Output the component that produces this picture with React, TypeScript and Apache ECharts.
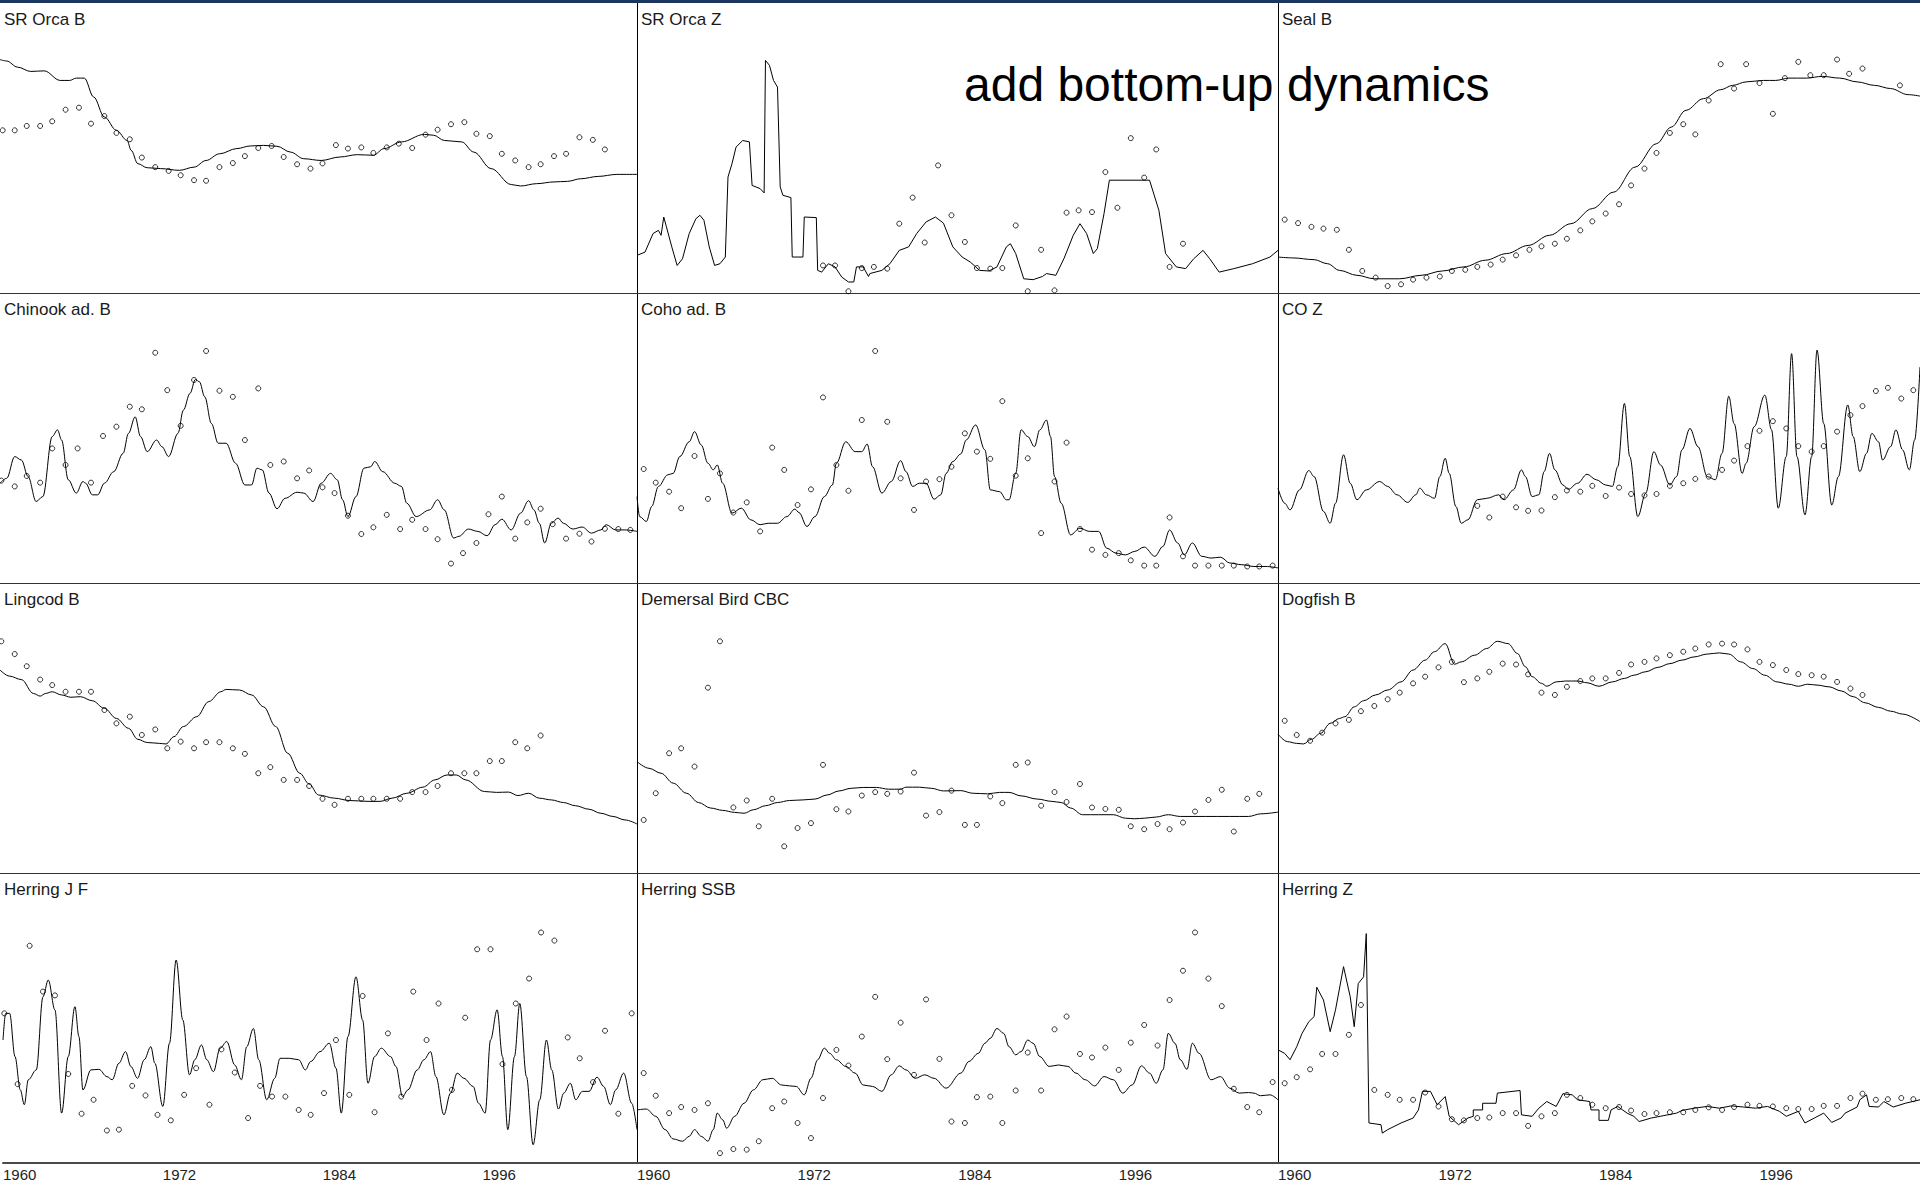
import React, { useEffect, useRef } from "react";
import * as echarts from "echarts";

// ---- Tick labels / titles ----
const tickYears = [1960, 1972, 1984, 1996];
const panelTitles = [
  "SR Orca B", "SR Orca Z", "Seal B",
  "Chinook ad. B", "Coho ad. B", "CO Z",
  "Lingcod B", "Demersal Bird CBC", "Dogfish B",
  "Herring J F", "Herring SSB", "Herring Z",
];
const annotation = "add bottom-up dynamics";

// ---- Model (line) and observed (points) series: [year, relative value 0-100] ----
const srOrcaBModel = [[1960.0,80.5],[1960.5,80.0],[1961.3,77.9],[1962.3,76.4],[1963.3,76.6],[1964.5,73.3],[1965.2,73.3],[1965.7,74.1],[1966.3,74.1],[1967.0,67.6],[1967.8,60.7],[1968.7,56.1],[1969.5,52.6],[1969.8,49.2],[1970.3,44.6],[1971.0,43.2],[1972.0,42.9],[1973.4,42.3],[1974.5,43.4],[1975.4,45.7],[1976.4,48.0],[1977.7,49.8],[1978.7,50.7],[1979.7,50.9],[1980.7,50.6],[1981.7,48.6],[1982.7,46.3],[1984.0,45.7],[1985.4,46.9],[1986.7,47.7],[1987.9,47.5],[1988.7,49.8],[1990.0,52.1],[1991.7,54.7],[1992.4,54.4],[1993.2,52.6],[1994.5,52.1],[1995.4,48.6],[1996.7,42.9],[1998.2,37.4],[1998.9,36.9],[2000.1,37.7],[2001.4,38.3],[2002.4,38.5],[2003.4,39.4],[2004.7,40.2],[2006.1,40.9],[2007.6,40.9]];
const srOrcaBObs = [[1960.2,56.1],[1961.1,56.1],[1962.0,57.6],[1963.0,57.6],[1963.9,59.2],[1964.9,63.2],[1965.9,63.9],[1966.8,58.4],[1967.8,61.0],[1968.7,55.2],[1969.7,53.0],[1970.6,46.7],[1971.6,43.4],[1972.6,42.1],[1973.5,40.6],[1974.5,38.9],[1975.4,38.7],[1976.4,43.4],[1977.4,44.8],[1978.3,47.2],[1979.3,50.0],[1980.3,50.7],[1981.2,46.9],[1982.2,44.4],[1983.2,42.9],[1984.1,44.7],[1985.1,51.0],[1986.0,49.8],[1987.0,50.2],[1987.9,48.3],[1988.9,50.2],[1989.8,51.5],[1990.8,50.0],[1991.8,54.6],[1992.7,56.3],[1993.7,58.2],[1994.7,58.9],[1995.6,54.9],[1996.6,54.1],[1997.5,48.0],[1998.5,45.7],[1999.5,43.4],[2000.4,44.4],[2001.4,47.2],[2002.3,48.0],[2003.3,53.7],[2004.3,52.8],[2005.2,49.5]];

const srOrcaZModel = [[1960.0,13.0],[1960.6,14.1],[1961.2,20.5],[1961.6,21.6],[1961.8,19.9],[1962.0,26.2],[1962.2,22.8],[1962.6,15.9],[1963.0,9.5],[1963.4,11.8],[1963.9,20.5],[1964.4,25.6],[1964.7,26.8],[1965.0,25.1],[1965.4,15.9],[1965.8,9.5],[1966.2,10.1],[1966.6,12.4],[1966.8,40.0],[1967.1,44.6],[1967.4,50.3],[1967.9,52.6],[1968.4,52.1],[1968.6,37.1],[1969.2,36.0],[1969.5,34.5],[1969.6,80.2],[1969.9,78.5],[1970.2,73.3],[1970.5,71.0],[1970.7,36.6],[1970.9,33.7],[1971.5,32.9],[1971.6,12.4],[1972.4,12.4],[1972.5,26.2],[1973.4,26.0],[1973.5,7.8],[1973.8,7.2],[1974.3,10.1],[1974.8,9.0],[1975.3,5.5],[1975.8,3.8],[1976.2,3.8],[1976.4,9.0],[1976.9,9.0],[1977.3,5.7],[1977.4,6.7],[1978.3,7.8],[1978.9,10.1],[1979.6,14.7],[1980.3,15.9],[1980.9,20.5],[1981.6,24.5],[1982.3,26.2],[1982.9,24.1],[1983.6,15.9],[1984.3,12.4],[1984.9,10.7],[1985.6,7.8],[1986.3,7.6],[1986.9,9.0],[1987.6,15.9],[1987.9,17.0],[1988.3,13.6],[1988.9,4.9],[1989.6,4.6],[1990.3,5.7],[1990.6,6.7],[1991.3,6.1],[1991.9,11.8],[1992.6,19.9],[1993.1,23.9],[1993.6,20.5],[1994.1,13.6],[1994.4,15.3],[1994.9,27.4],[1995.3,38.9],[1998.3,38.9],[1999.0,28.5],[1999.5,13.6],[2000.3,9.0],[2001.0,8.4],[2001.6,11.8],[2002.3,14.7],[2002.8,11.8],[2003.5,7.2],[2004.6,8.4],[2006.0,10.1],[2007.3,12.4],[2007.9,14.7]];
const srOrcaZObs = [[1973.9,9.5],[1974.8,9.5],[1975.8,0.6],[1976.8,8.6],[1977.7,9.0],[1978.7,8.4],[1979.6,23.9],[1980.6,32.9],[1981.5,17.4],[1982.5,44.0],[1983.5,26.8],[1984.5,17.6],[1985.4,8.6],[1986.4,8.4],[1987.3,8.6],[1988.3,23.3],[1989.2,0.6],[1990.2,14.9],[1991.2,0.9],[1992.1,27.7],[1993.0,28.5],[1994.0,27.9],[1995.0,41.7],[1995.9,29.4],[1996.9,53.4],[1997.9,39.8],[1998.8,49.5],[1999.8,9.0],[2000.8,17.0]];

const sealBModel = [[1960.0,12.4],[1961.1,12.1],[1962.7,11.5],[1963.7,10.1],[1964.6,7.8],[1965.9,6.1],[1967.2,4.9],[1969.1,4.9],[1970.7,6.1],[1972.3,7.6],[1973.9,9.0],[1975.5,11.3],[1977.1,13.6],[1978.7,16.4],[1980.3,19.9],[1981.9,23.9],[1983.5,29.1],[1985.1,34.8],[1986.7,43.4],[1988.3,51.5],[1989.4,57.2],[1990.5,63.0],[1991.8,67.0],[1993.1,70.1],[1994.0,71.6],[1995.0,72.8],[1996.3,73.3],[1997.2,73.3],[1998.2,74.1],[1999.5,74.1],[2000.7,74.7],[2002.0,74.1],[2003.3,72.8],[2004.6,71.6],[2005.8,70.5],[2007.1,68.4],[2008.0,67.9]];
const sealBObs = [[1960.5,25.3],[1961.5,24.1],[1962.5,22.8],[1963.4,22.2],[1964.4,21.8],[1965.3,14.9],[1966.3,7.6],[1967.3,5.3],[1968.2,2.4],[1969.2,3.0],[1970.1,4.6],[1971.1,5.3],[1972.1,5.7],[1973.0,7.6],[1974.0,8.0],[1974.9,9.0],[1975.9,9.8],[1976.8,11.5],[1977.8,13.0],[1978.8,14.9],[1979.7,16.1],[1980.7,17.0],[1981.6,18.7],[1982.6,21.6],[1983.5,24.7],[1984.5,27.4],[1985.5,30.6],[1986.4,37.1],[1987.4,42.9],[1988.3,48.3],[1989.3,55.2],[1990.3,58.2],[1991.2,54.7],[1992.2,66.4],[1993.1,78.9],[1994.1,70.5],[1995.0,78.9],[1996.0,72.4],[1997.0,61.8],[1997.9,74.1],[1998.9,79.7],[1999.8,75.1],[2000.8,75.1],[2001.8,80.5],[2002.7,75.6],[2003.7,77.4],[2006.5,71.6]];

const chinookModel = [[1960.0,34.4],[1960.5,36.1],[1961.1,43.6],[1961.6,42.4],[1962.1,36.7],[1962.7,28.1],[1963.2,29.8],[1963.9,50.5],[1964.3,52.8],[1964.6,49.3],[1965.1,35.6],[1965.7,31.0],[1966.2,35.0],[1966.4,34.4],[1966.9,30.4],[1967.3,30.4],[1967.8,34.4],[1968.5,38.4],[1969.2,44.7],[1969.6,51.6],[1970.1,57.3],[1970.5,50.5],[1971.0,45.3],[1971.7,49.3],[1972.1,47.0],[1972.6,43.6],[1973.3,51.6],[1973.7,59.6],[1974.2,65.4],[1974.6,70.2],[1974.9,69.4],[1975.3,64.2],[1975.8,55.0],[1976.3,48.2],[1976.9,48.2],[1977.6,41.3],[1978.3,33.8],[1978.8,33.8],[1979.2,39.6],[1979.6,39.0],[1980.1,31.0],[1980.7,25.6],[1981.3,29.2],[1982.2,31.3],[1982.7,31.0],[1983.4,28.1],[1984.0,34.4],[1984.7,37.8],[1985.2,35.6],[1985.6,28.7],[1986.0,22.9],[1986.6,29.8],[1987.2,39.6],[1987.7,40.1],[1988.0,41.9],[1988.6,38.4],[1989.5,34.4],[1990.0,33.3],[1990.4,27.5],[1991.1,22.9],[1992.1,25.2],[1992.7,28.7],[1993.2,25.2],[1993.9,15.5],[1994.3,16.1],[1995.0,18.6],[1995.7,17.8],[1996.4,16.3],[1997.0,20.1],[1997.5,22.0],[1998.2,18.3],[1998.9,24.1],[1999.5,28.4],[1999.9,25.2],[2000.3,20.6],[2000.7,13.8],[2001.2,20.6],[2001.7,22.4],[2002.1,20.6],[2002.8,18.6],[2003.5,19.3],[2004.2,17.2],[2004.9,18.3],[2005.3,20.1],[2006.0,18.3],[2006.7,18.3],[2007.6,17.8]];
const chinookObs = [[1960.1,35.3],[1961.1,33.3],[1962.0,36.9],[1963.0,34.6],[1963.9,46.4],[1964.9,40.7],[1965.8,46.4],[1966.8,34.6],[1967.7,50.7],[1968.7,53.9],[1969.7,60.8],[1970.6,59.9],[1971.6,79.4],[1972.5,66.5],[1973.5,54.2],[1974.5,70.0],[1975.4,80.0],[1976.4,66.3],[1977.4,64.2],[1978.3,49.3],[1979.3,67.1],[1980.2,40.7],[1981.2,41.9],[1982.2,36.1],[1983.1,38.8],[1984.1,33.0],[1985.0,31.0],[1986.0,23.2],[1987.0,16.9],[1987.9,19.2],[1988.9,23.5],[1989.9,18.6],[1990.8,21.8],[1991.8,18.6],[1992.7,15.1],[1993.7,6.7],[1994.6,10.3],[1995.6,13.8],[1996.5,23.7],[1997.5,29.8],[1998.5,15.3],[1999.4,20.9],[2000.4,25.6],[2001.3,20.3],[2002.3,15.3],[2003.3,17.0],[2004.2,14.3],[2005.2,18.7],[2006.2,18.6],[2007.1,18.3]];

const cohoModel = [[1960.0,29.8],[1960.2,22.9],[1960.7,21.2],[1961.1,26.4],[1961.6,33.3],[1962.3,37.3],[1962.7,37.8],[1963.2,43.6],[1963.9,48.7],[1964.3,52.2],[1964.8,47.6],[1965.3,41.3],[1965.7,39.0],[1966.0,40.7],[1966.4,34.4],[1967.1,24.1],[1967.8,25.8],[1968.5,21.8],[1969.2,20.1],[1969.8,20.6],[1970.5,20.6],[1971.2,22.9],[1971.8,25.5],[1972.1,24.3],[1972.7,19.5],[1973.3,22.9],[1974.0,29.8],[1974.6,33.8],[1974.9,41.3],[1975.6,48.7],[1976.3,45.3],[1976.8,45.3],[1977.2,47.9],[1977.6,40.1],[1978.3,31.0],[1979.0,35.0],[1979.7,42.2],[1980.1,38.4],[1980.6,33.3],[1981.1,34.4],[1981.6,34.4],[1982.2,28.9],[1982.7,30.4],[1983.1,37.8],[1983.6,41.9],[1984.2,44.5],[1984.6,49.3],[1985.3,54.5],[1986.0,45.9],[1986.4,32.1],[1987.1,31.5],[1987.6,28.7],[1987.8,28.7],[1988.3,37.8],[1988.7,52.8],[1989.2,50.5],[1989.7,47.0],[1990.1,52.8],[1990.6,56.2],[1990.9,50.5],[1991.2,36.7],[1991.7,27.5],[1992.4,16.6],[1993.1,18.9],[1993.8,17.8],[1994.5,17.8],[1995.1,12.0],[1995.8,10.3],[1996.5,9.7],[1997.2,10.9],[1997.9,12.4],[1998.7,9.2],[1999.3,12.6],[1999.8,18.3],[2000.4,13.8],[2000.9,9.7],[2001.5,13.8],[2002.2,9.2],[2002.9,8.6],[2003.6,8.9],[2004.3,6.9],[2005.2,6.3],[2006.1,5.7],[2007.0,5.7],[2007.9,5.2]];
const cohoObs = [[1960.5,39.3],[1961.4,34.6],[1962.4,31.5],[1963.3,25.8],[1964.3,43.8],[1965.3,29.0],[1966.2,37.8],[1967.2,24.3],[1968.2,27.8],[1969.2,17.8],[1970.1,46.7],[1971.0,39.0],[1972.0,26.9],[1973.0,32.3],[1973.9,64.0],[1974.9,40.7],[1975.8,31.8],[1976.8,56.2],[1977.8,80.0],[1978.7,55.6],[1979.7,36.1],[1980.7,25.2],[1981.6,35.0],[1982.6,35.8],[1983.5,40.1],[1984.5,51.6],[1985.4,45.3],[1986.4,42.8],[1987.3,62.7],[1988.3,37.0],[1989.2,43.0],[1990.2,17.2],[1991.2,35.0],[1992.1,48.4],[1993.1,18.6],[1994.0,11.5],[1995.0,9.7],[1996.0,10.3],[1996.9,7.8],[1997.9,6.0],[1998.8,6.0],[1999.8,22.6],[2000.8,9.2],[2001.7,6.0],[2002.7,6.0],[2003.7,6.0],[2004.6,6.0],[2005.6,5.7],[2006.5,5.7],[2007.5,6.0]];

const coZModel = [[1960.0,32.7],[1960.5,27.5],[1960.9,25.2],[1961.6,32.1],[1962.3,38.8],[1962.7,36.7],[1963.4,24.7],[1963.9,20.6],[1964.3,27.5],[1964.9,44.2],[1965.4,34.4],[1965.9,28.7],[1966.6,32.1],[1967.6,35.0],[1968.2,33.3],[1968.9,30.4],[1969.7,27.8],[1970.3,30.4],[1970.6,32.7],[1971.1,30.4],[1971.7,29.2],[1972.1,36.7],[1972.5,43.0],[1972.8,37.8],[1973.3,26.4],[1973.7,20.6],[1974.2,21.8],[1974.9,28.7],[1975.6,29.2],[1976.5,30.4],[1976.9,28.7],[1977.6,32.1],[1978.2,39.0],[1978.5,36.7],[1979.0,29.8],[1979.5,30.4],[1979.9,38.4],[1980.3,44.7],[1980.7,39.0],[1981.3,33.8],[1981.7,32.3],[1982.4,34.4],[1983.1,37.5],[1983.8,35.6],[1984.5,33.8],[1985.0,33.3],[1985.4,40.1],[1985.9,61.9],[1986.3,43.6],[1986.9,22.9],[1987.5,31.0],[1988.1,45.3],[1988.6,40.7],[1989.3,33.8],[1989.8,36.7],[1990.2,45.9],[1990.8,53.3],[1991.4,47.0],[1992.1,36.7],[1992.7,35.6],[1993.2,44.7],[1993.7,64.4],[1994.1,55.0],[1994.7,37.8],[1995.0,41.3],[1995.6,53.9],[1996.4,64.8],[1996.9,52.8],[1997.4,25.8],[1998.0,43.6],[1998.4,79.1],[1998.8,43.6],[1999.4,23.5],[1999.9,43.6],[2000.3,80.3],[2000.8,55.0],[2001.4,26.9],[2001.9,36.7],[2002.6,61.4],[2003.0,50.5],[2003.5,38.4],[2004.0,44.7],[2004.4,51.6],[2004.9,48.7],[2005.2,42.4],[2005.8,47.0],[2006.2,52.8],[2006.7,45.9],[2007.2,39.0],[2007.6,49.3],[2008.0,74.5]];
const coZObs = [[1974.9,26.6],[1975.8,22.6],[1976.8,29.8],[1977.8,26.1],[1978.7,24.9],[1979.7,25.0],[1980.7,29.6],[1981.6,31.9],[1982.6,31.5],[1983.5,33.5],[1984.5,30.0],[1985.5,32.9],[1986.4,30.7],[1987.4,30.2],[1988.3,30.7],[1989.3,33.5],[1990.3,34.4],[1991.2,35.9],[1992.2,36.7],[1993.2,39.0],[1994.1,42.2],[1995.1,47.2],[1996.0,52.5],[1997.0,55.8],[1998.0,53.3],[1998.9,47.2],[1999.9,45.3],[2000.8,47.2],[2001.8,52.2],[2002.8,57.9],[2003.7,61.0],[2004.7,66.2],[2005.6,67.3],[2006.6,63.6],[2007.5,66.5]];

const lingcodModel = [[1960.0,70.0],[1960.7,67.9],[1961.6,66.7],[1962.5,61.9],[1963.0,61.0],[1963.4,61.9],[1963.9,62.5],[1964.6,61.4],[1965.3,60.6],[1966.0,60.8],[1966.9,59.4],[1967.8,56.8],[1968.7,53.3],[1969.6,49.9],[1970.3,46.1],[1971.0,45.0],[1971.9,44.7],[1972.4,44.5],[1973.0,47.0],[1973.7,50.5],[1974.7,53.9],[1975.6,59.1],[1976.5,62.5],[1976.9,63.3],[1977.9,63.1],[1978.8,61.4],[1979.7,57.3],[1980.6,50.5],[1981.5,41.3],[1982.4,34.4],[1983.1,30.7],[1983.8,26.9],[1985.0,25.8],[1986.1,25.0],[1987.5,24.7],[1988.4,24.7],[1989.3,25.8],[1990.4,27.5],[1991.6,29.6],[1992.5,32.1],[1993.4,33.8],[1994.1,33.8],[1994.8,32.1],[1996.2,28.1],[1997.1,27.8],[1998.0,27.9],[1998.7,26.7],[1999.5,27.5],[2000.3,25.8],[2001.2,25.2],[2002.1,24.3],[2003.0,23.2],[2004.0,22.0],[2004.9,20.6],[2005.8,19.5],[2006.7,18.3],[2007.6,16.9]];
const lingcodObs = [[1960.1,79.9],[1961.1,75.5],[1962.0,71.3],[1963.0,66.7],[1963.9,64.8],[1964.9,62.5],[1965.9,62.5],[1966.8,62.5],[1967.8,56.2],[1968.7,51.6],[1969.7,53.9],[1970.6,47.6],[1971.6,49.5],[1972.5,43.0],[1973.5,45.3],[1974.5,43.0],[1975.4,45.1],[1976.4,45.1],[1977.4,43.0],[1978.3,41.1],[1979.3,34.4],[1980.2,36.5],[1981.2,32.1],[1982.2,32.1],[1983.1,30.0],[1984.1,25.6],[1985.0,23.5],[1986.0,25.6],[1987.0,25.6],[1987.9,25.6],[1988.9,25.6],[1989.9,25.6],[1990.8,27.9],[1991.8,27.9],[1992.7,30.0],[1993.7,34.4],[1994.7,34.4],[1995.6,34.4],[1996.6,38.6],[1997.5,38.6],[1998.5,45.1],[1999.4,43.0],[2000.4,47.4]];

const demersalModel = [[1960.0,38.4],[1960.9,36.1],[1961.8,34.4],[1962.7,31.0],[1963.7,27.5],[1964.6,24.3],[1965.5,22.4],[1966.4,21.6],[1967.3,20.9],[1968.0,20.6],[1968.7,21.8],[1969.6,23.2],[1970.5,24.3],[1971.4,25.0],[1972.4,25.2],[1973.3,25.5],[1974.2,26.9],[1975.1,28.3],[1976.0,29.2],[1976.9,29.5],[1977.9,29.5],[1978.8,28.9],[1979.7,28.9],[1980.1,29.6],[1981.1,29.6],[1982.0,29.2],[1982.9,28.3],[1984.2,28.4],[1985.1,27.5],[1986.2,27.3],[1987.1,27.8],[1987.8,27.8],[1988.7,26.6],[1989.9,25.5],[1991.0,24.7],[1991.7,24.3],[1992.4,22.4],[1993.3,20.1],[1994.5,20.1],[1995.6,20.1],[1996.5,18.9],[1997.2,18.7],[1997.9,18.9],[1998.8,19.3],[1999.7,20.1],[2000.6,19.5],[2002.5,19.5],[2004.3,19.5],[2005.7,19.5],[2006.6,20.4],[2007.9,21.0]];
const demersalObs = [[1960.5,18.3],[1961.4,27.5],[1962.4,41.3],[1963.3,43.0],[1964.3,36.7],[1965.3,63.9],[1966.2,79.9],[1967.2,22.6],[1968.2,25.0],[1969.1,16.1],[1970.1,25.6],[1971.0,9.2],[1972.0,15.5],[1973.0,17.2],[1973.9,37.3],[1974.9,22.0],[1975.8,21.2],[1976.8,26.7],[1977.8,27.9],[1978.7,27.3],[1979.7,28.1],[1980.7,34.6],[1981.6,19.8],[1982.6,21.0],[1983.5,28.4],[1984.5,16.6],[1985.4,16.6],[1986.4,26.4],[1987.3,24.1],[1988.3,37.3],[1989.2,38.1],[1990.2,23.2],[1991.2,27.9],[1992.1,24.5],[1993.1,30.7],[1994.0,22.6],[1995.0,22.1],[1996.0,21.8],[1996.9,16.1],[1997.9,15.1],[1998.9,16.9],[1999.8,15.1],[2000.8,17.4],[2001.7,21.2],[2002.7,25.2],[2003.7,28.7],[2004.6,14.3],[2005.6,25.6],[2006.5,27.3]];

const dogfishModel = [[1960.0,47.9],[1960.7,45.3],[1961.4,44.7],[1961.9,44.5],[1962.5,46.1],[1963.2,48.2],[1963.9,51.6],[1964.6,53.3],[1965.0,53.9],[1965.7,57.3],[1966.4,59.4],[1967.3,61.4],[1968.2,63.1],[1969.2,65.9],[1970.1,70.0],[1971.0,73.4],[1971.7,76.3],[1972.5,79.1],[1973.2,72.0],[1973.7,72.8],[1974.7,75.1],[1975.6,77.4],[1976.4,79.9],[1977.2,79.1],[1977.9,75.7],[1978.5,71.1],[1979.0,67.7],[1979.7,65.4],[1980.1,64.4],[1980.8,65.9],[1981.5,66.2],[1982.4,66.2],[1983.1,65.6],[1984.0,64.4],[1985.0,65.9],[1985.9,67.1],[1986.6,68.2],[1987.5,69.4],[1988.4,70.9],[1989.3,72.2],[1990.2,73.4],[1991.1,74.5],[1992.1,75.5],[1993.0,75.9],[1993.7,75.5],[1994.6,72.8],[1995.5,70.5],[1996.4,68.2],[1997.3,65.9],[1998.2,65.1],[1998.9,64.4],[1999.6,65.1],[2000.3,64.8],[2001.2,64.2],[2002.1,62.8],[2003.0,60.8],[2003.9,58.7],[2004.9,57.1],[2005.8,55.8],[2006.7,54.8],[2008.0,52.2]];
const dogfishObs = [[1960.5,52.5],[1961.4,47.6],[1962.4,45.6],[1963.3,48.4],[1964.3,51.6],[1965.3,52.8],[1966.2,55.8],[1967.2,57.6],[1968.2,59.9],[1969.1,62.2],[1970.1,65.4],[1971.0,67.7],[1972.0,70.9],[1973.0,72.8],[1973.9,65.8],[1974.9,67.1],[1975.8,69.4],[1976.8,72.2],[1977.8,71.9],[1978.7,68.5],[1979.7,62.2],[1980.7,61.4],[1981.6,64.2],[1982.6,66.2],[1983.5,67.1],[1984.5,67.1],[1985.5,69.0],[1986.4,71.9],[1987.4,72.8],[1988.3,74.0],[1989.3,75.1],[1990.3,76.3],[1991.2,77.4],[1992.2,78.8],[1993.2,79.1],[1994.1,78.8],[1995.1,77.1],[1996.0,72.8],[1997.0,71.7],[1998.0,70.0],[1998.9,68.6],[1999.9,68.2],[2000.8,67.7],[2001.8,65.9],[2002.8,63.6],[2003.7,61.4]];

const herringJFModel = [[1960.0,42.4],[1960.2,51.6],[1960.5,51.6],[1960.9,36.7],[1961.3,25.2],[1961.6,20.1],[1961.9,28.7],[1962.5,32.1],[1963.0,57.3],[1963.4,63.1],[1963.9,52.8],[1964.4,17.2],[1964.9,36.7],[1965.4,53.9],[1965.7,43.6],[1966.0,25.2],[1966.6,32.1],[1967.2,32.3],[1967.8,29.8],[1968.2,28.7],[1968.7,34.4],[1969.2,38.4],[1969.6,33.3],[1970.1,29.2],[1970.6,35.6],[1971.1,40.1],[1971.4,34.4],[1972.0,19.5],[1972.5,41.3],[1973.0,70.0],[1973.5,49.3],[1974.0,30.4],[1974.4,35.6],[1974.9,40.7],[1975.3,35.6],[1975.8,31.5],[1976.3,39.6],[1976.8,41.9],[1977.4,33.8],[1977.9,28.7],[1978.3,40.1],[1978.8,46.4],[1979.2,35.6],[1979.8,21.8],[1980.4,29.2],[1980.8,36.1],[1981.5,36.1],[1982.2,35.6],[1982.7,32.1],[1983.1,35.0],[1983.8,38.4],[1984.5,41.3],[1985.0,32.7],[1985.4,17.2],[1985.9,43.6],[1986.5,64.2],[1987.0,49.3],[1987.4,27.5],[1987.9,36.7],[1988.4,39.6],[1989.1,36.7],[1989.5,33.3],[1990.0,22.9],[1990.4,25.2],[1991.1,32.1],[1991.6,35.6],[1992.1,38.4],[1992.5,29.8],[1993.1,16.6],[1993.6,24.1],[1994.1,31.0],[1994.6,29.2],[1995.3,26.4],[1995.7,20.6],[1996.2,17.2],[1996.6,42.4],[1997.1,52.8],[1997.5,36.7],[1997.9,11.5],[1998.4,36.7],[1998.8,55.0],[1999.3,29.8],[1999.8,6.3],[2000.3,21.8],[2000.8,42.4],[2001.2,32.1],[2001.7,18.6],[2002.1,24.1],[2002.6,27.5],[2003.0,21.8],[2003.5,24.7],[2004.0,24.7],[2004.6,29.6],[2005.1,26.4],[2005.6,20.1],[2006.0,25.2],[2006.6,31.0],[2007.2,20.6],[2007.6,11.5]];
const herringJFObs = [[1960.1,51.6],[1961.1,27.2],[1962.0,74.9],[1963.0,59.1],[1963.9,57.8],[1964.9,30.7],[1965.9,17.0],[1966.8,21.8],[1967.8,11.2],[1968.7,11.5],[1969.7,26.6],[1970.7,23.3],[1971.6,16.6],[1972.6,14.7],[1973.6,23.5],[1974.5,32.7],[1975.5,20.1],[1976.4,39.2],[1977.4,31.2],[1978.4,15.5],[1979.3,26.6],[1980.2,22.9],[1981.2,22.9],[1982.2,18.3],[1983.1,16.6],[1984.1,24.1],[1985.0,42.4],[1986.0,23.5],[1987.0,57.6],[1987.9,17.5],[1988.9,44.7],[1989.9,22.9],[1990.8,59.1],[1991.8,42.4],[1992.7,55.0],[1993.7,25.2],[1994.7,50.1],[1995.6,73.7],[1996.6,73.7],[1997.5,34.1],[1998.5,55.0],[1999.5,63.6],[2000.4,79.5],[2001.4,76.7],[2002.4,43.3],[2003.3,36.1],[2004.3,27.9],[2005.2,45.6],[2006.2,17.0],[2007.2,51.6]];

const herringSSBModel = [[1960.0,18.3],[1960.7,18.6],[1961.4,16.1],[1962.1,11.5],[1962.7,8.3],[1963.4,7.5],[1963.9,9.2],[1964.3,11.5],[1964.8,9.2],[1965.3,7.5],[1965.7,11.5],[1966.0,17.2],[1966.4,14.9],[1966.7,12.0],[1967.3,16.1],[1968.0,20.6],[1968.7,25.2],[1969.4,28.7],[1970.1,29.2],[1970.8,26.9],[1971.4,26.6],[1971.9,26.4],[1972.5,23.5],[1973.0,29.2],[1973.5,35.6],[1974.0,39.6],[1974.4,37.8],[1974.9,35.6],[1975.6,33.3],[1976.3,31.0],[1976.9,26.9],[1977.6,26.4],[1978.3,24.7],[1979.0,30.4],[1979.6,33.5],[1980.1,32.1],[1980.8,29.2],[1981.5,30.4],[1982.2,29.2],[1983.1,25.8],[1984.2,31.0],[1984.8,35.0],[1985.5,37.8],[1986.0,41.3],[1986.4,43.0],[1986.9,46.4],[1987.4,44.7],[1987.8,40.1],[1988.3,37.3],[1988.7,38.4],[1989.2,42.4],[1989.6,41.3],[1990.1,36.7],[1990.8,33.3],[1991.5,33.8],[1992.2,33.3],[1992.8,31.0],[1993.5,28.7],[1994.2,26.6],[1994.9,29.8],[1995.6,28.7],[1996.3,24.1],[1997.0,26.9],[1997.7,33.5],[1998.3,31.0],[1998.8,27.5],[1999.3,32.1],[1999.7,44.7],[2000.2,41.3],[2000.6,35.6],[2001.1,32.3],[2001.5,41.3],[2002.0,37.8],[2002.9,28.7],[2003.6,29.8],[2004.3,25.8],[2005.0,24.1],[2005.7,24.3],[2006.1,24.1],[2006.6,23.2],[2007.3,23.5],[2007.9,21.8]];
const herringSSBObs = [[1960.5,31.0],[1961.4,23.2],[1962.4,17.2],[1963.3,19.3],[1964.3,18.3],[1965.3,20.6],[1966.2,3.4],[1967.2,4.8],[1968.2,4.6],[1969.1,7.5],[1970.1,18.9],[1971.0,21.2],[1972.0,13.8],[1973.0,8.6],[1973.9,22.4],[1974.9,39.0],[1975.8,33.6],[1976.8,43.6],[1977.8,57.3],[1978.7,35.8],[1979.7,48.4],[1980.7,30.4],[1981.6,56.4],[1982.6,35.9],[1983.5,14.3],[1984.5,13.8],[1985.4,22.7],[1986.4,22.9],[1987.3,13.8],[1988.3,25.0],[1989.2,38.1],[1990.2,25.0],[1991.2,46.1],[1992.1,50.5],[1993.1,37.6],[1994.0,36.4],[1995.0,39.8],[1996.0,32.1],[1996.9,41.5],[1997.9,47.6],[1998.9,40.5],[1999.8,56.2],[2000.8,66.3],[2001.7,79.5],[2002.7,63.6],[2003.7,54.1],[2004.6,25.6],[2005.6,19.3],[2006.5,17.5],[2007.5,27.9]];

const herringZModel = [[1960.0,39.0],[1960.5,37.8],[1960.9,35.6],[1961.4,40.1],[1961.8,44.7],[1962.3,48.7],[1962.7,50.5],[1962.9,60.6],[1963.4,56.2],[1963.9,45.3],[1964.3,52.8],[1964.9,67.7],[1965.4,57.3],[1965.7,47.0],[1966.0,61.9],[1966.4,64.2],[1966.6,79.1],[1966.8,13.8],[1967.7,13.2],[1967.8,10.3],[1968.2,11.5],[1969.2,13.8],[1970.1,15.5],[1970.5,18.3],[1970.8,24.7],[1971.4,24.7],[1971.9,20.1],[1972.5,22.9],[1972.8,16.1],[1973.5,13.2],[1974.2,15.5],[1974.6,16.1],[1974.6,18.3],[1975.3,18.3],[1975.3,20.6],[1976.3,20.6],[1976.4,24.1],[1978.1,25.0],[1978.2,16.6],[1979.0,16.1],[1979.5,18.9],[1980.1,21.2],[1980.8,19.5],[1981.3,23.9],[1982.0,23.5],[1982.4,21.8],[1983.3,21.2],[1983.4,18.3],[1984.0,18.3],[1984.0,14.7],[1984.7,14.7],[1984.9,18.3],[1985.4,19.5],[1986.1,17.2],[1986.6,16.1],[1987.0,14.3],[1987.9,15.5],[1988.8,16.3],[1989.8,17.2],[1990.2,18.1],[1991.1,18.9],[1992.1,19.5],[1993.0,18.9],[1993.9,19.7],[1994.8,19.3],[1995.7,18.9],[1996.6,19.5],[1997.5,17.8],[1998.0,16.1],[1998.9,17.8],[1999.4,13.8],[2000.1,15.5],[2000.8,17.2],[2001.4,14.0],[2002.1,15.5],[2002.4,17.2],[2003.3,19.3],[2003.5,21.8],[2004.0,23.5],[2004.2,19.5],[2004.9,19.3],[2005.3,21.2],[2006.0,19.3],[2006.9,20.6],[2008.0,21.8]];
const herringZObs = [[1960.5,27.5],[1961.4,29.6],[1962.4,32.3],[1963.3,37.6],[1964.3,37.6],[1965.3,44.2],[1966.2,54.5],[1967.2,25.2],[1968.2,23.5],[1969.1,21.8],[1970.1,21.8],[1971.0,24.3],[1972.0,19.5],[1973.0,15.1],[1973.9,14.7],[1974.9,15.5],[1975.8,15.7],[1976.8,17.2],[1977.8,17.2],[1978.7,12.8],[1979.7,16.1],[1980.7,17.2],[1981.6,23.5],[1982.6,22.4],[1983.5,20.1],[1984.5,18.9],[1985.5,19.3],[1986.4,18.1],[1987.4,16.9],[1988.3,17.2],[1989.3,17.5],[1990.3,17.5],[1991.2,18.3],[1992.2,19.2],[1993.2,18.3],[1994.1,19.3],[1995.1,20.1],[1996.0,19.7],[1997.0,19.5],[1998.0,18.9],[1998.9,18.6],[1999.9,18.6],[2000.8,19.7],[2001.8,19.7],[2002.8,22.4],[2003.7,23.9],[2004.7,21.8],[2005.6,22.0],[2006.6,22.4],[2007.5,22.0]];

const modelSeries = [srOrcaBModel, srOrcaZModel, sealBModel, chinookModel, cohoModel, coZModel, lingcodModel, demersalModel, dogfishModel, herringJFModel, herringSSBModel, herringZModel];
const observedSeries = [srOrcaBObs, srOrcaZObs, sealBObs, chinookObs, cohoObs, coZObs, lingcodObs, demersalObs, dogfishObs, herringJFObs, herringSSBObs, herringZObs];

// ---- Layout ----
const colLeft = [0, 637, 1278];
const colWidth = [637, 641, 642];
const colMax = [2007.6, 2007.9, 2008];
const rowTop = [3, 293, 583, 873];
const rowHeight = 290;
const steppedPanels = ["SR Orca Z", "Herring Z"];
const FONT = "'Liberation Sans', Arial, sans-serif";

export default function App() {
  const ref = useRef<HTMLDivElement>(null);

  useEffect(() => {
    if (!ref.current) return;
    const chart = echarts.init(ref.current, undefined, { renderer: "svg" });

    const grids: any[] = [];
    const xAxes: any[] = [];
    const yAxes: any[] = [];
    const series: any[] = [];
    const graphics: any[] = [
      { type: "rect", shape: { x: 0, y: 0, width: 1920, height: 3 }, style: { fill: "#1d3660" }, z: 100 },
    ];

    panelTitles.forEach((title, i) => {
      const row = Math.floor(i / 3);
      const col = i % 3;
      grids.push({ left: colLeft[col], top: rowTop[row], width: colWidth[col], height: rowHeight, containLabel: false });
      const isBottom = row === 3;
      xAxes.push({
        type: "value",
        gridIndex: i,
        min: 1960,
        max: colMax[col],
        interval: 12,
        axisLine: { show: true, onZero: false, lineStyle: { color: isBottom ? "#4a4a4a" : "#333333", width: isBottom ? 2 : 1 } },
        axisTick: { show: false },
        splitLine: { show: false },
        axisLabel: isBottom
          ? {
              show: true,
              align: "left",
              margin: 4,
              fontSize: 15,
              color: "#222222",
              fontFamily: FONT,
              showMaxLabel: false,
              formatter: (v: number) => (tickYears.includes(v) ? String(v) : ""),
            }
          : { show: false },
      });
      yAxes.push({
        type: "value",
        gridIndex: i,
        min: 0,
        max: 100,
        show: col > 0,
        axisLine: { show: true, onZero: false, lineStyle: { color: "#000000", width: 1 } },
        axisTick: { show: false },
        axisLabel: { show: false },
        splitLine: { show: false },
      });
      const stepped = steppedPanels.includes(title);
      series.push({
        type: "line",
        xAxisIndex: i,
        yAxisIndex: i,
        data: modelSeries[i],
        showSymbol: false,
        smooth: stepped ? false : 0.35,
        smoothMonotone: "x",
        lineStyle: { color: "#000000", width: 1 },
        silent: true,
      });
      series.push({
        type: "scatter",
        xAxisIndex: i,
        yAxisIndex: i,
        data: observedSeries[i],
        symbol: "circle",
        symbolSize: 5,
        itemStyle: { color: "rgba(0,0,0,0)", borderColor: "#000000", borderWidth: 1 },
        silent: true,
      });
      graphics.push({
        type: "text",
        x: colLeft[col] + 4,
        y: rowTop[row] + 16,
        style: { text: title, fontSize: 17, fontFamily: FONT, fill: "#1a1a1a", verticalAlign: "middle", align: "left" },
        z: 100,
      });
    });

    graphics.push({
      type: "text",
      x: 964,
      y: 84,
      style: { text: annotation, fontSize: 48, fontFamily: FONT, fill: "#000000", verticalAlign: "middle", align: "left" },
      z: 100,
    });

    chart.setOption({
      animation: false,
      backgroundColor: "#ffffff",
      grid: grids,
      xAxis: xAxes,
      yAxis: yAxes,
      series,
      graphic: graphics,
    });

    return () => chart.dispose();
  }, []);

  return (
    <div
      ref={ref}
      style={{ position: "fixed", left: 0, top: 0, width: 1920, height: 1188, background: "#ffffff" }}
    />
  );
}
